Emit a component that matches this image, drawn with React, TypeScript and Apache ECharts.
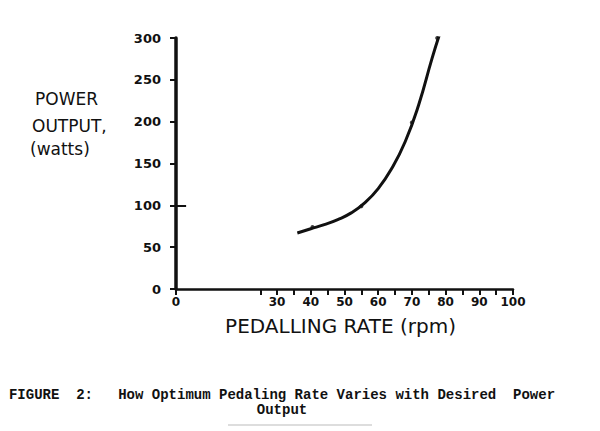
import React, { useEffect, useRef } from "react";
import * as echarts from "echarts";

// curve
const curveRpm = [36, 40, 44, 48, 52, 56, 60, 64, 68, 72, 76, 78.5];
const curvePower = [67, 72, 77, 83, 91, 103, 120, 144, 176, 220, 276, 308];
// small marks on the curve (measured points)
const markRpm = [40.5, 55, 70, 77.5];
const markPower = [74, 99, 199, 300];
// axis ticks and labels
const xTickValues = [0, 25, 30, 35, 40, 45, 50, 55, 60, 65, 70, 75, 80, 85, 90, 95, 100];
const xLabelValues = [0, 30, 40, 50, 60, 70, 80, 90, 100];
const yTickValues = [0, 50, 100, 150, 200, 250, 300];

const yTitleLines = ["POWER", "OUTPUT,", "(watts)"];
const caption = "FIGURE  2:   How Optimum Pedaling Rate Varies with Desired  Power\nOutput";

const hand = "DejaVu Sans";

export default function App() {
  const ref = useRef<HTMLDivElement>(null);
  useEffect(() => {
    if (!ref.current) return;
    const chart = echarts.init(ref.current, undefined, { renderer: "svg" });
    const curveData = curveRpm.map((x, i) => [x, curvePower[i]]);
    const markData = markRpm.map((x, i) => [x, markPower[i]]);
    chart.setOption({
      animation: false,
      backgroundColor: "#ffffff",
      grid: { left: 176, right: 87, top: 38, bottom: 142, containLabel: false },
      xAxis: {
        type: "value",
        min: 0,
        max: 100,
        interval: 5,
        name: "PEDALLING RATE (rpm)",
        nameLocation: "middle",
        nameGap: 27,
        nameTextStyle: { fontFamily: hand, fontSize: 20, color: "#111", padding: [0, 8, 0, 0] },
        axisLine: { show: true, lineStyle: { color: "#111", width: 2.5 } },
        axisTick: {
          show: true,
          customValues: xTickValues,
          length: 6,
          inside: false,
          lineStyle: { color: "#111", width: 2 },
        },
        axisLabel: {
          customValues: xLabelValues,
          color: "#111",
          fontFamily: hand,
          fontWeight: "bold",
          fontSize: 12,
          margin: 7,
        },
        splitLine: { show: false },
      },
      yAxis: {
        type: "value",
        min: 0,
        max: 300,
        interval: 50,
        axisLine: { show: true, lineStyle: { color: "#111", width: 3.5 } },
        axisTick: {
          show: true,
          customValues: yTickValues,
          length: 6,
          lineStyle: { color: "#111", width: 2 },
        },
        axisLabel: {
          color: "#111",
          fontFamily: hand,
          fontWeight: "bold",
          fontSize: 13,
          margin: 15,
        },
        splitLine: { show: false },
      },
      series: [
        {
          type: "line",
          data: curveData,
          smooth: 0.5,
          showSymbol: false,
          lineStyle: { color: "#111", width: 3 },
          markLine: {
            silent: true,
            symbol: "none",
            label: { show: false },
            lineStyle: { color: "#111", width: 2, type: "solid" },
            data: [[{ coord: [0, 100] }, { coord: [3, 100] }]],
          },
        },
        {
          type: "scatter",
          data: markData,
          symbol: "circle",
          symbolSize: 4,
          itemStyle: { color: "#111" },
        },
      ],
      graphic: [
        ...yTitleLines.map((t, i) => ({
          type: "text",
          left: [35, 32, 30][i],
          top: [90, 117, 140][i],
          style: { text: t, font: `17px '${hand}'`, fill: "#111" },
        })),
        {
          type: "text",
          x: 282,
          y: 387,
          style: {
            text: caption,
            font: `bold 14px 'Liberation Mono'`,
            lineHeight: 15,
            align: "center",
            verticalAlign: "top",
            fill: "#111",
          },
        },
        {
          type: "line",
          shape: { x1: 228, y1: 425, x2: 372, y2: 425 },
          style: { stroke: "#bbb", lineWidth: 1 },
        },
      ],
    });
    return () => chart.dispose();
  }, []);
  return (
    <div
      ref={ref}
      style={{ position: "fixed", left: 0, top: 0, width: 600, height: 431, background: "#fff" }}
    />
  );
}
